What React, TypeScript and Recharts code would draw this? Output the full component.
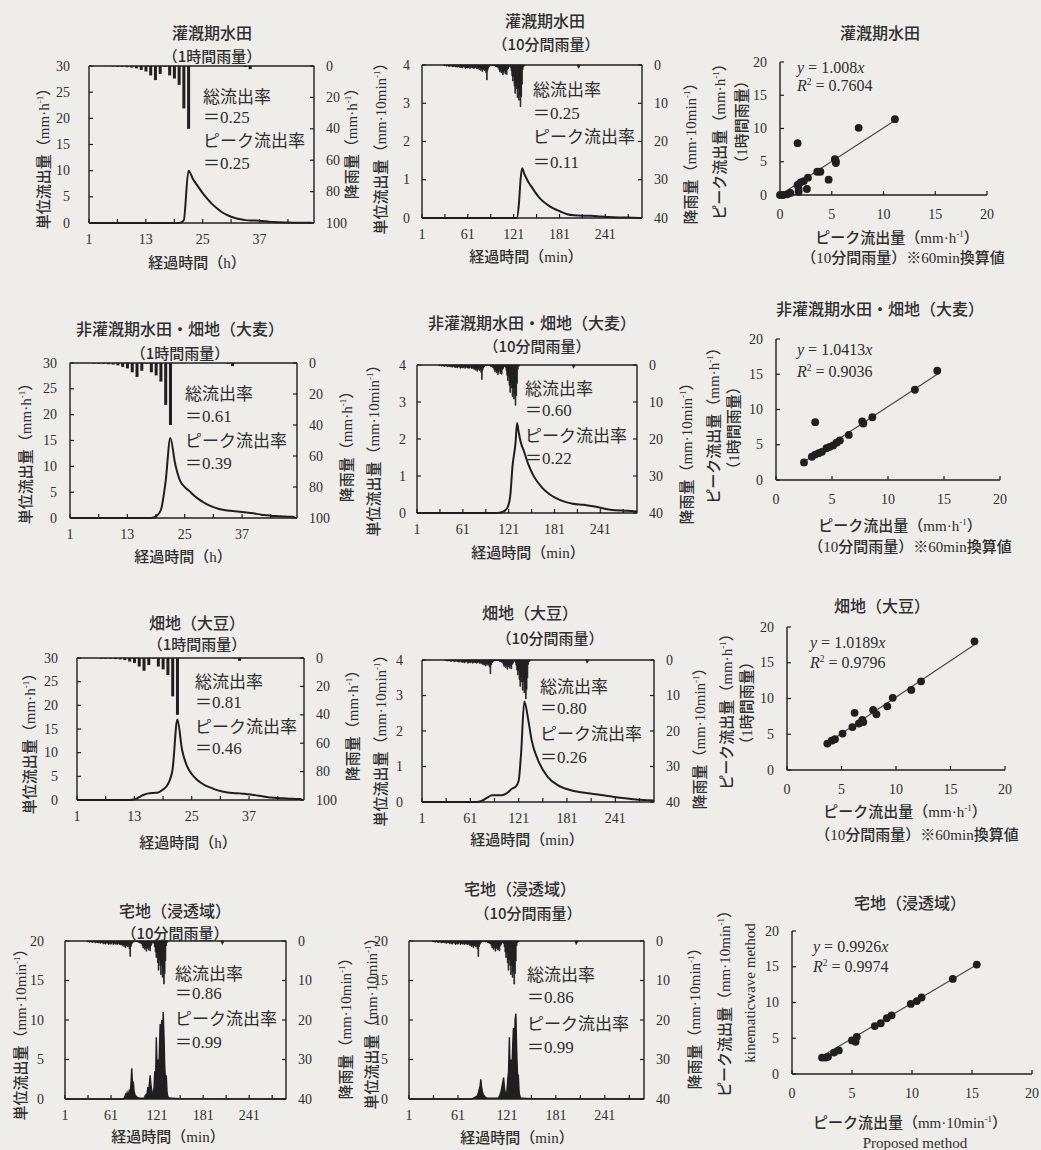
import React from "react";
import {
  Area,
  Bar,
  ComposedChart,
  Line,
  ReferenceLine,
  Scatter,
  XAxis,
  YAxis,
  ZAxis,
} from "recharts";

const BG = "#eeedea";
const INK = "#1f1f1f";
const TXT = "#2e2e2e";
const SERIF = '"Liberation Serif", "Noto Sans CJK JP", serif';
const GOTHIC = '"Noto Sans CJK JP", "Liberation Serif", sans-serif';

// rainfall, hourly totals for hours 1..48 (mm·h-1)
const hourlyRain = [
  0, 0, 0, 0, 0, 0.3, 0.5, 0.5, 0.8, 1.0, 1.5, 2.5, 3.5, 6, 9, 5, 0.5, 6, 8, 12,
  27, 40, 0, 0, 0, 0, 0, 0, 0, 0, 0, 0, 0, 0.5, 2, 0, 0, 0, 0, 0, 0, 0, 0, 0, 0,
  0, 0, 0,
];

// rainfall, 10-minute totals (mm·10min-1); main storm from step 30, late shower from step 205
const RAIN10_FIRST = 30;
const rain10Main = [
  0.1, 0.2, 0, 0.3, 0.2, 0.1, 0.3, 0.4, 0.2, 0.3,
  0.2, 0.5, 0.3, 0.4, 0.2, 0.5, 0.3, 0.6, 0.4, 0.3,
  0.5, 0.7, 0.4, 0.6, 0.8, 0.5, 0.3, 0.6, 0.9, 0.7,
  0.5, 0.8, 0.6, 0.4, 0.9, 0.7, 0.5, 0.8, 0.6, 0.9,
  0.7, 0.5, 0.8, 1.0, 0.6, 0.9, 1.2, 0.8, 1.4, 1.0,
  1.7, 1.2, 0.9, 1.5, 1.1, 2.0, 3.9, 1.4, 0.8, 0.5,
  0.2, 0.1, 0.2, 0.1, 0.1, 0.2, 0.1, 0.3, 0.5, 0.4,
  0.6, 0.7, 1.2, 1.8, 1.3, 2.1, 1.6, 2.6, 1.9, 1.4,
  2.3, 1.7, 2.5, 1.2, 0.9, 0.4, 0.3, 0.6, 1.5, 2.8,
  4.2, 3.0, 5.5, 7.4, 4.8, 6.2, 8.5, 6.0, 9.2, 7.8,
  10.9, 8.3, 5.0, 1.2, 0.4, 0.2,
];
const RAIN10_LATE_FIRST = 205;
const rain10Late = [0.3, 0.8, 0.4];

// unit runoff, hourly rainfall runs (mm·h-1), hours 1..48
const paddyIrrHourly = [
  0, 0, 0, 0, 0, 0, 0, 0, 0, 0, 0, 0, 0, 0, 0, 0, 0, 0, 0, 0,
  0.5, 10, 8.3, 7.0, 5.7, 4.6, 3.6, 2.8, 2.1, 1.6, 1.2, 0.9, 0.7, 0.55, 0.5,
  0.5, 0.45, 0.35, 0.25, 0.2, 0.15, 0.1, 0.08, 0.06, 0.05, 0.04, 0.03, 0.03,
];
const barleyHourly = [
  0, 0, 0, 0, 0, 0, 0, 0, 0, 0, 0, 0, 0, 0, 0, 0, 0, 0,
  0.3, 1.5, 7, 15.5, 10.5, 7.3, 6.0, 5.2, 4.3, 3.6, 3.0, 2.5, 2.1, 1.8, 1.6,
  1.45, 1.35, 1.25, 1.15, 1.05, 0.95, 0.8, 0.65, 0.55, 0.45, 0.38, 0.32, 0.28,
  0.24, 0.2,
];
const soyHourly = [
  0, 0, 0, 0, 0, 0, 0, 0, 0, 0, 0, 0,
  0.1, 0.6, 1.1, 1.4, 1.5, 1.6, 2.2, 3.3, 6.5, 17, 10.5, 7.2, 5.5, 4.4, 3.6,
  3.0, 2.6, 2.2, 1.9, 1.7, 1.55, 1.45, 1.4, 1.3, 1.2, 1.05, 0.9, 0.75, 0.6, 0.5,
  0.4, 0.35, 0.3, 0.25, 0.22, 0.2,
];

// unit runoff, 10-minute rainfall runs (mm·10min-1), read at step positions
const paddyIrr10Steps = [1, 125, 128, 130, 132, 135, 140, 145, 150, 156, 165, 173, 182, 191, 200, 210, 222, 235, 252, 270, 289];
const paddyIrr10Vals = [0, 0, 0.4, 1.0, 1.3, 1.15, 0.95, 0.8, 0.65, 0.5, 0.35, 0.25, 0.17, 0.1, 0.07, 0.06, 0.06, 0.04, 0.02, 0.01, 0];

const barley10Steps = [1, 105, 112, 119, 123, 126, 130, 132, 134, 137, 141, 147, 154, 165, 175, 183, 195, 205, 219, 237, 254, 277, 289];
const barley10Vals = [0, 0, 0.02, 0.13, 0.45, 1.26, 1.9, 2.43, 2.2, 1.9, 1.67, 1.3, 0.99, 0.68, 0.5, 0.4, 0.3, 0.25, 0.22, 0.16, 0.09, 0.06, 0.04];

const soy10Steps = [1, 68, 74, 82, 88, 100, 106, 113, 117, 121, 124, 128, 133, 137, 145, 157, 170, 186, 210, 226, 247, 267, 283, 289];
const soy10Vals = [0, 0, 0.02, 0.12, 0.19, 0.19, 0.24, 0.38, 0.42, 0.6, 1.37, 2.83, 2.3, 1.75, 1.18, 0.71, 0.47, 0.33, 0.24, 0.19, 0.12, 0.07, 0.05, 0.04];

// residential (pervious) runoff, every step from 78 to 140, plus flat lead and tail
const RES_FIRST = 78;
const resLeadSteps = [1, 77];
const resLeadVals = [0, 0];
const resTailSteps = [150, 289];
const resTailVals = [0.05, 0];
const residentialA = [
  0.1, 0.3, 0.6, 0.4, 0.8, 0.5, 0.7, 1.2, 0.9, 2.0, 3.9, 1.8, 2.2, 1.0, 0.6,
  0.4, 0.3, 0.2, 0.2, 0.1, 0.1, 0.1, 0.1, 0.1, 0.1, 0.1, 0.1, 0.3, 0.5, 0.4,
  0.8, 1.5, 1.0, 2.0, 3.0, 1.8, 1.2, 0.6, 0.4, 1.5, 3.5, 2.0, 7.8, 4.0, 5.0,
  2.5, 6.0, 9.5, 5.0, 10.0, 7.0, 11.0, 8.0, 4.0, 2.5, 3.0, 0.8, 0.3, 0.2, 0.15,
  0.1, 0.1, 0.1,
];
const residentialB = [
  0.05, 0.05, 0.1, 0.2, 0.2, 0.3, 0.3, 0.5, 0.8, 1.2, 1.6, 2.5, 1.5, 0.9, 0.6,
  0.4, 0.3, 0.2, 0.15, 0.1, 0.1, 0.1, 0.1, 0.1, 0.1, 0.1, 0.1, 0.1, 0.1, 0.1,
  0.1, 0.1, 0.1, 0.2, 0.4, 0.7, 1.0, 1.6, 2.2, 2.7, 1.4, 0.8, 0.6, 1.0, 2.5,
  3.5, 7.8, 3.2, 5.0, 3.0, 6.5, 9.0, 4.5, 10.0, 10.8, 6.0, 3.0, 3.0, 0.8, 0.3,
  0.15, 0.1, 0.1,
];

// peak runoff, 10-minute run (x) against hourly run (y)
const paddyPeakX = [0, 0.3, 0.7, 1.0, 1.7, 1.7, 1.8, 1.8, 2.0, 2.3, 2.6, 2.7, 3.6, 3.9, 4.7, 5.3, 5.4, 5.4, 7.6, 11.1];
const paddyPeakY = [0, 0, 0.1, 0.3, 7.8, 1.5, 0.5, 0.9, 1.9, 2.1, 0.9, 2.6, 3.5, 3.5, 2.3, 5.4, 4.8, 5.1, 10.1, 11.4];
const barleyPeakX = [2.5, 3.2, 3.5, 3.5, 3.8, 4.1, 4.5, 4.8, 5.1, 5.4, 5.7, 6.5, 7.7, 7.8, 8.6, 12.4, 14.4];
const barleyPeakY = [2.5, 3.3, 3.6, 8.2, 3.8, 4.0, 4.5, 4.7, 4.9, 5.3, 5.6, 6.4, 8.3, 8.0, 8.9, 12.8, 15.5];
const soyPeakX = [3.7, 4.1, 4.4, 5.1, 6.0, 6.2, 6.6, 6.9, 7.0, 7.9, 8.2, 9.2, 9.7, 11.4, 12.3, 17.2];
const soyPeakY = [3.7, 4.1, 4.3, 5.1, 6.0, 8.0, 6.5, 7.0, 6.7, 8.4, 7.8, 8.9, 10.1, 11.2, 12.4, 18.0];
// residential: proposed method (x) against kinematic wave method (y)
const resPeakX = [2.5, 2.8, 3.0, 3.5, 3.9, 5.0, 5.3, 5.4, 6.9, 7.4, 7.9, 8.3, 9.9, 10.4, 10.8, 13.4, 15.4];
const resPeakY = [2.3, 2.3, 2.4, 3.0, 3.3, 4.7, 4.5, 5.2, 6.7, 7.1, 7.8, 8.2, 9.8, 10.2, 10.7, 13.3, 15.3];

const hourTicks = [1, 7, 13, 19, 25, 31, 37, 43];
const hourLabels = [1, 13, 25, 37];
const minTicks = [1, 31, 61, 91, 121, 151, 181, 211, 241, 271];
const minLabels = [1, 61, 121, 181, 241];
const q30Ticks = [0, 5, 10, 15, 20, 25, 30];
const q4Ticks = [0, 1, 2, 3, 4];
const q20Ticks = [0, 5, 10, 15, 20];
const rainHourTicks = [0, 20, 40, 60, 80, 100];
const rain10Ticks = [0, 10, 20, 30, 40];
const peakTicks = [0, 5, 10, 15, 20];

type Box = { x: number; y: number; w: number; h: number };
type Pos = { x: number; y: number };

const rainHourRows = hourlyRain.map((r, i) => ({ t: i + 1, r }));
const rain10Rows = [
  ...rain10Main.map((r, i) => ({ t: RAIN10_FIRST + i, r })),
  ...rain10Late.map((r, i) => ({ t: RAIN10_LATE_FIRST + i, r })),
];
const hourRows = (vals: number[]) => vals.map((q, i) => ({ t: i + 1, q }));
const stepRows = (steps: number[], vals: number[]) =>
  steps.map((t, i) => ({ t, q: vals[i] }));
const residentialRows = (vals: number[]) => [
  ...stepRows(resLeadSteps, resLeadVals),
  ...vals.map((q, i) => ({ t: RES_FIRST + i, q })),
  ...stepRows(resTailSteps, resTailVals),
];
const peakRows = (xs: number[], ys: number[]) => xs.map((x, i) => ({ x, y: ys[i] }));

function Txt({
  x,
  y,
  size = 15,
  align = "center",
  rotate = false,
  font = SERIF,
  weight = 400,
  children,
}: {
  x: number;
  y: number;
  size?: number;
  align?: "left" | "center";
  rotate?: boolean;
  font?: string;
  weight?: number;
  children: React.ReactNode;
}) {
  const tx = align === "center" ? "-50%" : "0";
  return (
    <div
      style={{
        position: "absolute",
        left: x,
        top: y,
        transform: `translate(${tx}, -50%)${rotate ? " rotate(-90deg)" : ""}`,
        whiteSpace: "nowrap",
        fontSize: size,
        lineHeight: 1,
        fontFamily: font,
        fontWeight: weight,
        color: TXT,
      }}
    >
      {children}
    </div>
  );
}

const sup = <sup style={{ fontSize: "0.6em", lineHeight: 0 }}>-1</sup>;
const unitHour = <>（mm·h{sup}）</>;
const unitMin = <>（mm·10min{sup}）</>;

const tickText = {
  fontSize: 14,
  fill: TXT,
  fontFamily: SERIF,
  dominantBaseline: "central" as const,
};

const bottomTick = (labels: number[], inward = 4) => (p: any) => (
  <g>
    <line x1={p.x} x2={p.x} y1={p.y} y2={p.y - inward} stroke={INK} strokeWidth={1.2} />
    {labels.includes(p.payload.value) && (
      <text x={p.x} y={p.y + 16} textAnchor="middle" {...tickText}>
        {p.payload.value}
      </text>
    )}
  </g>
);

const leftTick = (gap: number) => (p: any) => (
  <g>
    <line x1={p.x} x2={p.x + 4} y1={p.y} y2={p.y} stroke={INK} strokeWidth={1.2} />
    <text x={p.x - gap} y={p.y} textAnchor="end" {...tickText}>
      {p.payload.value}
    </text>
  </g>
);

const rightTick = (p: any) => (
  <g>
    <line x1={p.x} x2={p.x - 4} y1={p.y} y2={p.y} stroke={INK} strokeWidth={1.2} />
    <text x={p.x + 12} y={p.y} textAnchor="start" {...tickText}>
      {p.payload.value}
    </text>
  </g>
);

const PX = 60;
const PT = 8;
const PB = 32;

function Hydrograph({
  plot,
  kind,
  runoff,
  qTicks,
  leftGap,
  spiky = false,
  titles,
  titleX,
  titleY,
  leftLab,
  rightLab,
  xLab,
  ann,
}: {
  plot: Box;
  kind: "hour" | "min";
  runoff: { t: number; q: number }[];
  qTicks: number[];
  leftGap: number;
  spiky?: boolean;
  titles: [string, string];
  titleX: [number, number];
  titleY: [number, number];
  leftLab: Pos;
  rightLab: Pos;
  xLab: Pos;
  ann: { x: number; ys: number[]; total: string; peak: string };
}) {
  const hourly = kind === "hour";
  const xMax = hourly ? 48.5 : 289;
  const rTicks = hourly ? rainHourTicks : rain10Ticks;
  const qMax = qTicks[qTicks.length - 1];
  const unit = hourly ? unitHour : unitMin;
  return (
    <>
      <div style={{ position: "absolute", left: plot.x - PX, top: plot.y - PT }}>
        <ComposedChart
          width={plot.w + 2 * PX}
          height={plot.h + PT + PB}
          data={hourly ? rainHourRows : rain10Rows}
          margin={{ top: PT, right: 0, bottom: 0, left: 0 }}
        >
          <XAxis
            dataKey="t"
            type="number"
            domain={[1, xMax]}
            allowDataOverflow
            ticks={hourly ? hourTicks : minTicks}
            interval={0}
            height={PB}
            tickSize={0}
            tickMargin={0}
            tickLine={false}
            axisLine={{ stroke: INK, strokeWidth: 1.4 }}
            tick={bottomTick(hourly ? hourLabels : minLabels)}
          />
          <YAxis
            yAxisId="q"
            type="number"
            domain={[0, qMax]}
            ticks={qTicks}
            interval={0}
            width={PX}
            tickSize={0}
            tickMargin={0}
            tickLine={false}
            axisLine={{ stroke: INK, strokeWidth: 1.4 }}
            tick={leftTick(leftGap)}
          />
          <YAxis
            yAxisId="rain"
            orientation="right"
            type="number"
            reversed
            domain={[0, rTicks[rTicks.length - 1]]}
            ticks={rTicks}
            interval={0}
            width={PX}
            tickSize={0}
            tickMargin={0}
            tickLine={false}
            axisLine={{ stroke: INK, strokeWidth: 1.4 }}
            tick={rightTick}
          />
          <ReferenceLine yAxisId="q" y={qMax} stroke={INK} strokeWidth={1.4} />
          <Bar
            yAxisId="rain"
            dataKey="r"
            fill={INK}
            stroke={hourly ? "none" : INK}
            strokeWidth={0.8}
            barSize={hourly ? 3 : 1}
            isAnimationActive={false}
          />
          {spiky ? (
            <Area
              yAxisId="q"
              data={runoff}
              dataKey="q"
              type="linear"
              stroke={INK}
              strokeWidth={1.4}
              fill={INK}
              fillOpacity={1}
              dot={false}
              activeDot={false}
              isAnimationActive={false}
            />
          ) : (
            <Line
              yAxisId="q"
              data={runoff}
              dataKey="q"
              type="monotone"
              stroke={INK}
              strokeWidth={2}
              dot={false}
              isAnimationActive={false}
            />
          )}
        </ComposedChart>
      </div>
      <Txt x={titleX[0]} y={titleY[0]} size={16} font={GOTHIC} weight={500}>
        {titles[0]}
      </Txt>
      <Txt x={titleX[1]} y={titleY[1]} size={15} font={GOTHIC} weight={500}>
        {titles[1]}
      </Txt>
      <Txt x={leftLab.x} y={leftLab.y} rotate weight={500}>
        単位流出量{unit}
      </Txt>
      <Txt x={rightLab.x} y={rightLab.y} rotate weight={500}>
        降雨量{unit}
      </Txt>
      <Txt x={xLab.x} y={xLab.y} weight={500}>
        経過時間{hourly ? "（h）" : "（min）"}
      </Txt>
      <Txt x={ann.x} y={ann.ys[0]} size={17} align="left" font={GOTHIC}>
        総流出率
      </Txt>
      <Txt x={ann.x} y={ann.ys[1]} size={17} align="left">
        ＝{ann.total}
      </Txt>
      <Txt x={ann.x} y={ann.ys[2]} size={17} align="left" font={GOTHIC}>
        ピーク流出率
      </Txt>
      <Txt x={ann.x} y={ann.ys[3]} size={17} align="left">
        ＝{ann.peak}
      </Txt>
    </>
  );
}

const SX = 50;
const ST = 10;
const SR = 16;
const SB = 34;

function PeakScatter({
  plot,
  pts,
  slope,
  r2,
  title,
  eq,
  xLines,
  yLines,
}: {
  plot: Box;
  pts: { x: number; y: number }[];
  slope: string;
  r2: string;
  title: Pos & { text: string };
  eq: { x: number; ys: [number, number] };
  xLines: (Pos & { text: React.ReactNode })[];
  yLines: (Pos & { text: React.ReactNode })[];
}) {
  const xs = pts.map((p) => p.x);
  const fit = [Math.min(...xs), Math.max(...xs)].map((x) => ({ x, y: Number(slope) * x }));
  return (
    <>
      <div style={{ position: "absolute", left: plot.x - SX, top: plot.y - ST }}>
        <ComposedChart
          width={plot.w + SX + SR}
          height={plot.h + ST + SB}
          margin={{ top: ST, right: SR, bottom: 0, left: 0 }}
        >
          <XAxis
            dataKey="x"
            type="number"
            domain={[0, 20]}
            ticks={peakTicks}
            interval={0}
            height={SB}
            tickSize={0}
            tickMargin={0}
            tickLine={false}
            axisLine={{ stroke: INK, strokeWidth: 1.4 }}
            tick={(p: any) => (
              <g>
                <line x1={p.x} x2={p.x} y1={p.y} y2={p.y - 4} stroke={INK} strokeWidth={1.2} />
                <text x={p.x} y={p.y + 19} textAnchor="middle" {...tickText}>
                  {p.payload.value}
                </text>
              </g>
            )}
          />
          <YAxis
            dataKey="y"
            type="number"
            domain={[0, 20]}
            ticks={peakTicks}
            interval={0}
            width={SX}
            tickSize={0}
            tickMargin={0}
            tickLine={false}
            axisLine={{ stroke: INK, strokeWidth: 1.4 }}
            tick={leftTick(13)}
          />
          <ZAxis range={[48, 48]} />
          <Line
            data={fit}
            dataKey="y"
            type="linear"
            stroke="#4a4a4a"
            strokeWidth={1.2}
            dot={false}
            isAnimationActive={false}
          />
          <Scatter data={pts} fill={INK} isAnimationActive={false} />
        </ComposedChart>
      </div>
      <Txt x={title.x} y={title.y} size={16} font={GOTHIC} weight={500}>
        {title.text}
      </Txt>
      <Txt x={eq.x} y={eq.ys[0]} size={16} align="left">
        <i>y</i> = {slope}
        <i>x</i>
      </Txt>
      <Txt x={eq.x} y={eq.ys[1]} size={16} align="left">
        <i>R</i>
        <sup style={{ fontSize: "0.6em", lineHeight: 0 }}>2</sup> = {r2}
      </Txt>
      {xLines.map((l, i) => (
        <Txt key={i} x={l.x} y={l.y} weight={500}>
          {l.text}
        </Txt>
      ))}
      {yLines.map((l, i) => (
        <Txt key={i} x={l.x} y={l.y} rotate weight={500}>
          {l.text}
        </Txt>
      ))}
    </>
  );
}

const peakXLabelHour = [
  <>ピーク流出量{unitHour}</>,
  <>（10分間雨量）※60min換算値</>,
];
const peakYLabelHour = [<>ピーク流出量{unitHour}</>, <>（1時間雨量）</>];

export default function App() {
  return (
    <div
      style={{
        position: "absolute",
        left: 0,
        top: 0,
        width: 1041,
        height: 1150,
        background: BG,
        overflow: "hidden",
      }}
    >
      {/* 灌漑期水田 */}
      <Hydrograph
        plot={{ x: 89, y: 66, w: 225, h: 157 }}
        kind="hour"
        runoff={hourRows(paddyIrrHourly)}
        qTicks={q30Ticks}
        leftGap={19}
        titles={["灌漑期水田", "（1時間雨量）"]}
        titleX={[212, 212]}
        titleY={[32, 55]}
        leftLab={{ x: 44, y: 155 }}
        rightLab={{ x: 352, y: 140 }}
        xLab={{ x: 197, y: 263 }}
        ann={{ x: 203, ys: [95, 117, 139, 163], total: "0.25", peak: "0.25" }}
      />
      <Hydrograph
        plot={{ x: 422, y: 65, w: 220, h: 153 }}
        kind="min"
        runoff={stepRows(paddyIrr10Steps, paddyIrr10Vals)}
        qTicks={q4Ticks}
        leftGap={12}
        titles={["灌漑期水田", "（10分間雨量）"]}
        titleX={[545, 546]}
        titleY={[20, 43]}
        leftLab={{ x: 381, y: 145 }}
        rightLab={{ x: 691, y: 150 }}
        xLab={{ x: 526, y: 257 }}
        ann={{ x: 533, ys: [88, 113, 135, 162], total: "0.25", peak: "0.11" }}
      />
      <PeakScatter
        plot={{ x: 780, y: 62, w: 207, h: 133 }}
        pts={peakRows(paddyPeakX, paddyPeakY)}
        slope="1.008"
        r2="0.7604"
        title={{ x: 880, y: 32, text: "灌漑期水田" }}
        eq={{ x: 797, ys: [68, 86] }}
        xLines={[
          { x: 897, y: 238, text: peakXLabelHour[0] },
          { x: 903, y: 258, text: peakXLabelHour[1] },
        ]}
        yLines={[
          { x: 720, y: 138, text: peakYLabelHour[0] },
          { x: 742, y: 122, text: peakYLabelHour[1] },
        ]}
      />

      {/* 非灌漑期水田・畑地（大麦） */}
      <Hydrograph
        plot={{ x: 70, y: 363, w: 227, h: 155 }}
        kind="hour"
        runoff={hourRows(barleyHourly)}
        qTicks={q30Ticks}
        leftGap={13}
        titles={["非灌漑期水田・畑地（大麦）", "（1時間雨量）"]}
        titleX={[180, 180]}
        titleY={[328, 352]}
        leftLab={{ x: 26, y: 450 }}
        rightLab={{ x: 347, y: 443 }}
        xLab={{ x: 183, y: 557 }}
        ann={{ x: 185, ys: [392, 416, 439, 463], total: "0.61", peak: "0.39" }}
      />
      <Hydrograph
        plot={{ x: 417, y: 365, w: 220, h: 148 }}
        kind="min"
        runoff={stepRows(barley10Steps, barley10Vals)}
        qTicks={q4Ticks}
        leftGap={11}
        titles={["非灌漑期水田・畑地（大麦）", "（10分間雨量）"]}
        titleX={[532, 537]}
        titleY={[322, 345]}
        leftLab={{ x: 374, y: 447 }}
        rightLab={{ x: 687, y: 450 }}
        xLab={{ x: 528, y: 553 }}
        ann={{ x: 525, ys: [387, 410, 434, 458], total: "0.60", peak: "0.22" }}
      />
      <PeakScatter
        plot={{ x: 776, y: 339, w: 224, h: 141 }}
        pts={peakRows(barleyPeakX, barleyPeakY)}
        slope="1.0413"
        r2="0.9036"
        title={{ x: 880, y: 308, text: "非灌漑期水田・畑地（大麦）" }}
        eq={{ x: 797, ys: [350, 372] }}
        xLines={[
          { x: 900, y: 526, text: peakXLabelHour[0] },
          { x: 910, y: 547, text: peakXLabelHour[1] },
        ]}
        yLines={[
          { x: 714, y: 422, text: peakYLabelHour[0] },
          { x: 734, y: 428, text: peakYLabelHour[1] },
        ]}
      />

      {/* 畑地（大豆） */}
      <Hydrograph
        plot={{ x: 77, y: 658, w: 227, h: 142 }}
        kind="hour"
        runoff={hourRows(soyHourly)}
        qTicks={q30Ticks}
        leftGap={19}
        titles={["畑地（大豆）", "（1時間雨量）"]}
        titleX={[197, 197]}
        titleY={[622, 643]}
        leftLab={{ x: 30, y: 740 }}
        rightLab={{ x: 353, y: 722 }}
        xLab={{ x: 188, y: 843 }}
        ann={{ x: 195, ys: [680, 702, 725, 748], total: "0.81", peak: "0.46" }}
      />
      <Hydrograph
        plot={{ x: 422, y: 660, w: 232, h: 142 }}
        kind="min"
        runoff={stepRows(soy10Steps, soy10Vals)}
        qTicks={q4Ticks}
        leftGap={19}
        titles={["畑地（大豆）", "（10分間雨量）"]}
        titleX={[530, 550]}
        titleY={[612, 637]}
        leftLab={{ x: 381, y: 737 }}
        rightLab={{ x: 700, y: 735 }}
        xLab={{ x: 527, y: 840 }}
        ann={{ x: 540, ys: [685, 708, 732, 757], total: "0.80", peak: "0.26" }}
      />
      <PeakScatter
        plot={{ x: 787, y: 627, w: 218, h: 143 }}
        pts={peakRows(soyPeakX, soyPeakY)}
        slope="1.0189"
        r2="0.9796"
        title={{ x: 882, y: 605, text: "畑地（大豆）" }}
        eq={{ x: 810, ys: [643, 663] }}
        xLines={[
          { x: 905, y: 812, text: peakXLabelHour[0] },
          { x: 917, y: 835, text: peakXLabelHour[1] },
        ]}
        yLines={[
          { x: 727, y: 708, text: peakYLabelHour[0] },
          { x: 747, y: 703, text: peakYLabelHour[1] },
        ]}
      />

      {/* 宅地（浸透域） */}
      <Hydrograph
        plot={{ x: 65, y: 941, w: 221, h: 158 }}
        kind="min"
        runoff={residentialRows(residentialA)}
        qTicks={q20Ticks}
        leftGap={21}
        spiky
        titles={["宅地（浸透域）", "（10分間雨量）"]}
        titleX={[175, 175]}
        titleY={[910, 932]}
        leftLab={{ x: 21, y: 1031 }}
        rightLab={{ x: 346, y: 1025 }}
        xLab={{ x: 168, y: 1137 }}
        ann={{ x: 175, ys: [972, 993, 1017, 1042], total: "0.86", peak: "0.99" }}
      />
      <Hydrograph
        plot={{ x: 409, y: 941, w: 235, h: 158 }}
        kind="min"
        runoff={residentialRows(residentialB)}
        qTicks={q20Ticks}
        leftGap={21}
        spiky
        titles={["宅地（浸透域）", "（10分間雨量）"]}
        titleX={[520, 528]}
        titleY={[888, 912]}
        leftLab={{ x: 372, y: 1020 }}
        rightLab={{ x: 695, y: 1015 }}
        xLab={{ x: 517, y: 1138 }}
        ann={{ x: 527, ys: [973, 997, 1022, 1047], total: "0.86", peak: "0.99" }}
      />
      <PeakScatter
        plot={{ x: 792, y: 931, w: 240, h: 143 }}
        pts={peakRows(resPeakX, resPeakY)}
        slope="0.9926"
        r2="0.9974"
        title={{ x: 910, y: 902, text: "宅地（浸透域）" }}
        eq={{ x: 813, ys: [947, 967] }}
        xLines={[
          { x: 910, y: 1123, text: <>ピーク流出量{unitMin}</> },
          { x: 915, y: 1143, text: "Proposed  method" },
        ]}
        yLines={[
          { x: 725, y: 1000, text: <>ピーク流出量{unitMin}</> },
          { x: 750, y: 993, text: "kinematicwave method" },
        ]}
      />
    </div>
  );
}
